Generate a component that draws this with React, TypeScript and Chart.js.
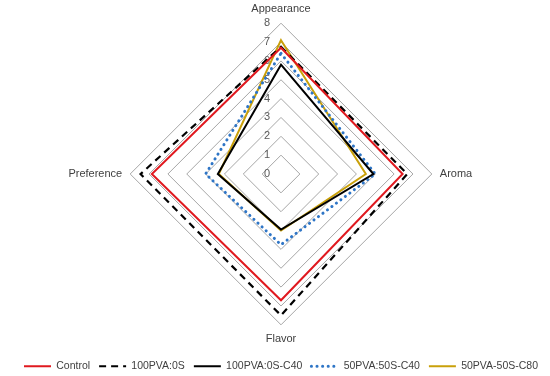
import React, { useEffect, useRef } from "react";
import { Chart, registerables } from "chart.js";

Chart.register(...registerables);

const categories = ["Appearance", "Aroma", "Flavor", "Preference"];
const controlValues = [6.7, 6.45, 6.7, 6.85];
const pva100Values = [6.75, 6.7, 7.5, 7.45];
const pva100C40Values = [5.8, 4.9, 2.95, 3.35];
const pva50C40Values = [6.4, 5.0, 3.75, 4.0];
const pva50C80Values = [7.1, 4.5, 3.0, 3.3];
const tickValues = [0, 1, 2, 3, 4, 5, 6, 7, 8];

const FONT = "'Liberation Sans', Arial, sans-serif";

const tickLabelPlugin = {
  id: "tickLabels",
  beforeDatasetsDraw(chart: any) {
    const s = chart.scales.r;
    const ctx = chart.ctx;
    ctx.save();
    ctx.font = `11px ${FONT}`;
    ctx.fillStyle = "#595959";
    ctx.textAlign = "center";
    ctx.textBaseline = "middle";
    tickValues.forEach((v) => {
      const d = s.getDistanceFromCenterForValue(v);
      ctx.fillText(String(v), s.xCenter - 14, s.yCenter - d);
    });
    ctx.restore();
  },
};

export default function App() {
  const ref = useRef<HTMLCanvasElement | null>(null);
  useEffect(() => {
    if (!ref.current) return;
    const mk = (label: string, data: number[], color: string, width: number, dash: number[], cap: string) => ({
      label,
      data,
      borderColor: color,
      backgroundColor: "transparent",
      borderWidth: width,
      borderDash: dash,
      borderCapStyle: cap,
      fill: false,
      pointRadius: 0,
      pointHoverRadius: 0,
      tension: 0,
    });
    const datasets = [
      mk("Control", controlValues, "#e0191f", 2, [], "butt"),
      mk("100PVA:0S", pva100Values, "#000000", 2.2, [7, 5], "butt"),
      mk("100PVA:0S-C40", pva100C40Values, "#000000", 2, [], "butt"),
      mk("50PVA:50S-C40", pva50C40Values, "#2e75c6", 3, [0.1, 5.5], "round"),
      mk("50PVA-50S-C80", pva50C80Values, "#c9a00a", 2, [], "butt"),
    ];
    const chart = new Chart(ref.current, {
      type: "radar",
      data: { labels: categories, datasets: datasets as any },
      options: {
        animation: false,
        responsive: true,
        maintainAspectRatio: false,
        layout: { padding: { top: 2, bottom: 0, left: 12, right: 0 } },
        scales: {
          r: {
            min: 0,
            max: 8,
            ticks: { stepSize: 1, display: false },
            grid: { color: "#a6a6a6", lineWidth: 1 },
            angleLines: { display: false },
            pointLabels: {
              font: { family: FONT, size: 11 },
              color: "#404040",
              padding: 8,
            },
          },
        },
        plugins: {
          tooltip: { enabled: false },
          legend: {
            position: "bottom",
            maxHeight: 30,
            title: { display: true, text: "", font: { size: 6, lineHeight: 1 } },
            labels: {
              usePointStyle: true,
              pointStyle: "line",
              pointStyleWidth: 27,
              font: { family: FONT, size: 10.5 },
              color: "#404040",
              padding: 9,
              generateLabels: (c: any) => {
                const base = (Chart as any).defaults.plugins.legend.labels.generateLabels(c);
                return base.map((item: any, i: number) => {
                  const ds: any = c.data.datasets[item.datasetIndex ?? i];
                  return {
                    ...item,
                    strokeStyle: ds.borderColor,
                    fillStyle: ds.borderColor,
                    lineWidth: ds.borderWidth,
                    lineDash: ds.borderDash,
                    lineCap: ds.borderCapStyle,
                    pointStyle: "line",
                  };
                });
              },
            },
          },
        },
      } as any,
      plugins: [tickLabelPlugin],
    });
    return () => chart.destroy();
  }, []);
  return (
    <div style={{ position: "fixed", left: 0, top: 0, width: 550, height: 376, background: "#fff" }}>
      <canvas ref={ref} />
    </div>
  );
}
